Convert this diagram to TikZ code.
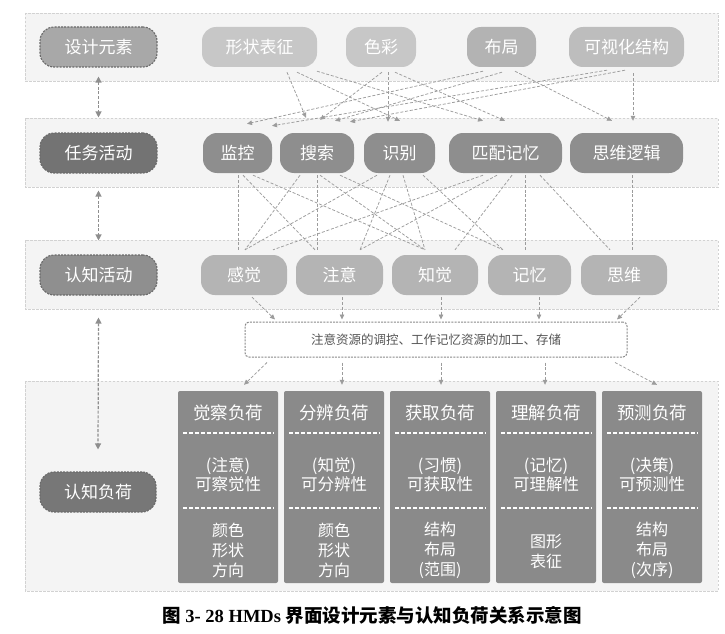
\documentclass[tikz,border=0pt]{standalone}
\usepackage{fontspec}
\setmainfont{Liberation Serif}
\newfontfamily\cjk{Noto Sans CJK SC}
\usetikzlibrary{arrows.meta,calc}
\definecolor{bandfill}{HTML}{F4F4F4}
\definecolor{bandline}{HTML}{D2D2D2}
\definecolor{headline}{HTML}{6A6A6A}
\definecolor{linkgray}{HTML}{9C9C9C}
\definecolor{biagray}{HTML}{8E8E8E}
\definecolor{fD}{HTML}{A8A8A8}
\definecolor{fDa}{HTML}{C7C7C7}
\definecolor{fDb}{HTML}{B3B3B3}
\definecolor{fDc}{HTML}{BDBDBD}
\definecolor{fT}{HTML}{737373}
\definecolor{fTa}{HTML}{8E8E8E}
\definecolor{fC}{HTML}{8F8F8F}
\definecolor{fCa}{HTML}{B4B4B4}
\definecolor{fL}{HTML}{777777}
\definecolor{fcol}{HTML}{8A8A8A}
\definecolor{boxline}{HTML}{8A8A8A}
\definecolor{boxtext}{HTML}{555555}
\begin{document}
\begin{tikzpicture}[x=1pt,y=-1pt,
  band/.style={draw=bandline, fill=bandfill, dash pattern=on 2.5pt off 1.5pt, line width=0.6pt},
  pill/.style={rounded corners=14pt, minimum height=40pt, inner sep=0pt, text=white,
    font=\cjk\fontsize{17}{17}\selectfont},
  headpill/.style={pill, draw=headline, dash pattern=on 2pt off 1.2pt, line width=1.1pt},
  link/.style={draw=linkgray, dash pattern=on 3pt off 1.8pt, line width=0.75pt},
  arr/.style={link, -{Triangle[length=5pt,width=4.5pt]}},
  biarr/.style={draw=biagray, line width=1.2pt, dash pattern=on 3pt off 1.6pt,
    {Triangle[length=6pt,width=6pt]}-{Triangle[length=6pt,width=6pt]}},
  colbox/.style={fill=fcol, rounded corners=2pt, minimum width=100pt, minimum height=192pt, inner sep=0pt},
  coltitle/.style={text=white, font=\cjk\fontsize{17.5}{17.5}\selectfont, inner sep=0pt},
  coltext/.style={text=white, font=\cjk\fontsize{16.5}{19}\selectfont, align=center, inner sep=0pt},
  colbot/.style={text=white, font=\cjk\fontsize{16}{20}\selectfont, align=center, inner sep=0pt},
  divider/.style={draw=white, line width=1.6pt, dash pattern=on 4pt off 2pt}
]
\useasboundingbox (0,0) rectangle (725,634);
\fill[white] (0,0) rectangle (725,634);
% bands
\draw[band] (25,13) rectangle (718,81);
\draw[band] (25,118) rectangle (718,187);
\draw[band] (25,240) rectangle (718,309);
\draw[band] (25,381) rectangle (718,591);
% row 1: design elements
\node[headpill, fill=fD, minimum width=117pt] (d0) at (98.5,47) {设计元素};
\node[pill, fill=fDa, minimum width=115pt] (d1) at (259.5,47) {形状表征};
\node[pill, fill=fDa, minimum width=70pt] (d2) at (381,47) {色彩};
\node[pill, fill=fDb, minimum width=69pt] (d3) at (501.5,47) {布局};
\node[pill, fill=fDc, minimum width=115pt] (d4) at (626.5,47) {可视化结构};
% row 2: task activities
\node[headpill, fill=fT, minimum width=117pt] (t0) at (98.5,153) {任务活动};
\node[pill, fill=fTa, minimum width=69pt] (t1) at (237.5,153) {监控};
\node[pill, fill=fTa, minimum width=74pt] (t2) at (317,153) {搜索};
\node[pill, fill=fTa, minimum width=71pt] (t3) at (399.5,153) {识别};
\node[pill, fill=fTa, minimum width=113pt] (t4) at (505.5,153) {匹配记忆};
\node[pill, fill=fTa, minimum width=113pt] (t5) at (626.5,153) {思维逻辑};
% row 3: cognitive activities
\node[headpill, fill=fC, minimum width=117pt] (c0) at (98.5,275) {认知活动};
\node[pill, fill=fCa, minimum width=86pt] (c1) at (244,275) {感觉};
\node[pill, fill=fCa, minimum width=87pt] (c2) at (339.5,275) {注意};
\node[pill, fill=fCa, minimum width=86pt] (c3) at (435,275) {知觉};
\node[pill, fill=fCa, minimum width=83pt] (c4) at (529.5,275) {记忆};
\node[pill, fill=fCa, minimum width=86pt] (c5) at (624,275) {思维};
% process box
\node[draw=boxline, fill=white, rounded corners=4pt, dash pattern=on 2pt off 1.2pt, line width=1pt,
  minimum width=382pt, minimum height=35pt, inner sep=0pt, text=boxtext,
  font=\cjk\fontsize{12.5}{12.5}\selectfont] (pb) at (436,339.5) {注意资源的调控、工作记忆资源的加工、存储};
% row 4: cognitive load
\node[headpill, fill=fL, minimum width=116pt] (l0) at (98,492) {认知负荷};
\node[colbox] (L1) at (228,487) {};
\node[colbox] (L2) at (334,487) {};
\node[colbox] (L3) at (440,487) {};
\node[colbox] (L4) at (546,487) {};
\node[colbox] (L5) at (652,487) {};
\foreach \c in {L1,L2,L3,L4,L5}{
  \draw[divider] ($(\c.north west)+(5,42)$) -- ($(\c.north east)+(-5,42)$);
  \draw[divider] ($(\c.north west)+(5,117)$) -- ($(\c.north east)+(-5,117)$);
}
\node[coltitle] (L1a) at (228,413) {觉察负荷};
\node[coltitle] (L2a) at (334,413) {分辨负荷};
\node[coltitle] (L3a) at (440,413) {获取负荷};
\node[coltitle] (L4a) at (546,413) {理解负荷};
\node[coltitle] (L5a) at (652,413) {预测负荷};
\node[coltext] (L1b) at (228,474.5) {(注意)\\可察觉性};
\node[coltext] (L2b) at (334,474.5) {(知觉)\\可分辨性};
\node[coltext] (L3b) at (440,474.5) {(习惯)\\可获取性};
\node[coltext] (L4b) at (546,474.5) {(记忆)\\可理解性};
\node[coltext] (L5b) at (652,474.5) {(决策)\\可预测性};
\node[colbot] (L1c) at (228,550) {颜色\\形状\\方向};
\node[colbot] (L2c) at (334,550) {颜色\\形状\\方向};
\node[colbot] (L3c) at (440,550) {结构\\布局\\(范围)};
\node[colbot] (L4c) at (546,552) {图形\\表征};
\node[colbot] (L5c) at (652,550) {结构\\布局\\(次序)};
% left bidirectional arrows
\draw[biarr] ([yshift=-9pt]d0.south) -- ([yshift=15pt]t0.north);
\draw[biarr] ([yshift=-17pt]t0.south) -- ([yshift=14pt]c0.north);
\draw[biarr] ([yshift=-22pt]c0.south) -- ([yshift=22pt]l0.north);
% design elements -> task activities
\draw[arr] ([xshift=27.5pt,yshift=-5pt]d1.south) -- ([xshift=-11pt,yshift=15pt]t2.north);
\draw[arr] ([xshift=37.5pt,yshift=-5pt]d1.south) -- ([xshift=0.5pt,yshift=12pt]t3.north);
\draw[arr] ([xshift=57.5pt,yshift=-4pt]d1.south) -- ([xshift=-22.5pt,yshift=12pt]t4.north);
\draw[arr] ([xshift=1pt,yshift=-5pt]d2.south) -- ([xshift=3pt,yshift=13pt]t2.north);
\draw[arr] ([xshift=7pt,yshift=-5pt]d2.south) -- ([xshift=-11.5pt,yshift=11pt]t3.north);
\draw[arr] ([xshift=14pt,yshift=-5pt]d2.south) -- ([xshift=-0.5pt,yshift=12pt]t4.north);
\draw[arr] ([xshift=-18.5pt,yshift=-4pt]d3.south) -- ([xshift=9.5pt,yshift=9pt]t1.north);
\draw[arr] ([xshift=0.5pt,yshift=-5pt]d3.south) -- ([xshift=18pt,yshift=12pt]t2.north);
\draw[arr] ([xshift=13.5pt,yshift=-4pt]d3.south) -- ([xshift=-14.5pt,yshift=12pt]t5.north);
\draw[arr] ([xshift=-19.5pt,yshift=-3pt]d4.south) -- ([xshift=34.5pt,yshift=7pt]t1.north);
\draw[arr] ([xshift=-1.5pt,yshift=-3pt]d4.south) -- ([xshift=33pt,yshift=11pt]t2.north);
\draw[arr] ([xshift=6.5pt,yshift=-6pt]d4.south) -- ([xshift=6.5pt,yshift=12pt]t5.north);
% task activities -- cognitive activities
\draw[link] ([xshift=0.5pt,yshift=-2pt]t1.south) -- ([xshift=-6pt,yshift=5pt]c1.north);
\draw[link] ([xshift=5.5pt,yshift=-2pt]t1.south) -- ([xshift=-24.5pt,yshift=5pt]c2.north);
\draw[link] ([xshift=15.5pt,yshift=-2pt]t1.south) -- ([xshift=-10pt,yshift=5pt]c3.north);
\draw[link] ([xshift=-17pt,yshift=-2pt]t2.south) -- ([xshift=1pt,yshift=5pt]c1.north);
\draw[link] ([xshift=0pt,yshift=-2pt]t2.south) -- ([xshift=-22.5pt,yshift=5pt]c2.north);
\draw[link] ([xshift=3pt,yshift=-2pt]t2.south) -- ([xshift=-10pt,yshift=5pt]c3.north);
\draw[link] ([xshift=23pt,yshift=-2pt]t2.south) -- ([xshift=-26.5pt,yshift=5pt]c4.north);
\draw[link] ([xshift=-22.5pt,yshift=-2pt]t3.south) -- ([xshift=1pt,yshift=5pt]c1.north);
\draw[link] ([xshift=-9.5pt,yshift=-2pt]t3.south) -- ([xshift=20.5pt,yshift=5pt]c2.north);
\draw[link] ([xshift=3.5pt,yshift=-2pt]t3.south) -- ([xshift=-10pt,yshift=5pt]c3.north);
\draw[link] ([xshift=23.5pt,yshift=-2pt]t3.south) -- ([xshift=-26.5pt,yshift=5pt]c4.north);
\draw[link] ([xshift=-22.5pt,yshift=-2pt]t4.south) -- ([xshift=29pt,yshift=5pt]c1.north);
\draw[link] ([xshift=-8.5pt,yshift=-2pt]t4.south) -- ([xshift=20.5pt,yshift=5pt]c2.north);
\draw[link] ([xshift=6.5pt,yshift=-2pt]t4.south) -- ([xshift=20pt,yshift=5pt]c3.north);
\draw[link] ([xshift=19.5pt,yshift=-2pt]t4.south) -- ([xshift=-4.5pt,yshift=5pt]c4.north);
\draw[link] ([xshift=34.5pt,yshift=-2pt]t4.south) -- ([xshift=-14pt,yshift=5pt]c5.north);
\draw[link] ([xshift=5.5pt,yshift=-2pt]t5.south) -- ([xshift=8pt,yshift=5pt]c5.north);
% cognitive activities -> process box
\draw[arr] ([xshift=8pt,yshift=-2pt]c1.south) -- ([xshift=-161pt,yshift=2pt]pb.north);
\draw[arr] ([xshift=2.5pt,yshift=-2pt]c2.south) -- ([xshift=-94pt,yshift=2pt]pb.north);
\draw[arr] ([xshift=6pt,yshift=-2pt]c3.south) -- ([xshift=5pt,yshift=2pt]pb.north);
\draw[arr] ([xshift=9.5pt,yshift=-2pt]c4.south) -- ([xshift=103pt,yshift=2pt]pb.north);
\draw[arr] ([xshift=16pt,yshift=-2pt]c5.south) -- ([xshift=181pt,yshift=2pt]pb.north);
% process box -> load columns
\draw[arr] ([xshift=-169pt,yshift=-5pt]pb.south) -- ([xshift=16pt,yshift=6pt]L1.north);
\draw[arr] ([xshift=-94pt,yshift=-5pt]pb.south) -- ([xshift=8pt,yshift=6pt]L2.north);
\draw[arr] ([xshift=5pt,yshift=-5pt]pb.south) -- ([xshift=1pt,yshift=6pt]L3.north);
\draw[arr] ([xshift=109pt,yshift=-5pt]pb.south) -- ([xshift=-1pt,yshift=6pt]L4.north);
\draw[arr] ([xshift=179pt,yshift=-5pt]pb.south) -- ([xshift=5pt,yshift=6pt]L5.north);
% caption
\node[inner sep=0pt, font=\fontsize{18.5}{18.5}\selectfont\bfseries] (cap) at (372,615)
  {{\cjk\bfseries 图} 3- 28 HMDs {\cjk\bfseries 界面设计元素与认知负荷关系示意图}};
\end{tikzpicture}
\end{document}
